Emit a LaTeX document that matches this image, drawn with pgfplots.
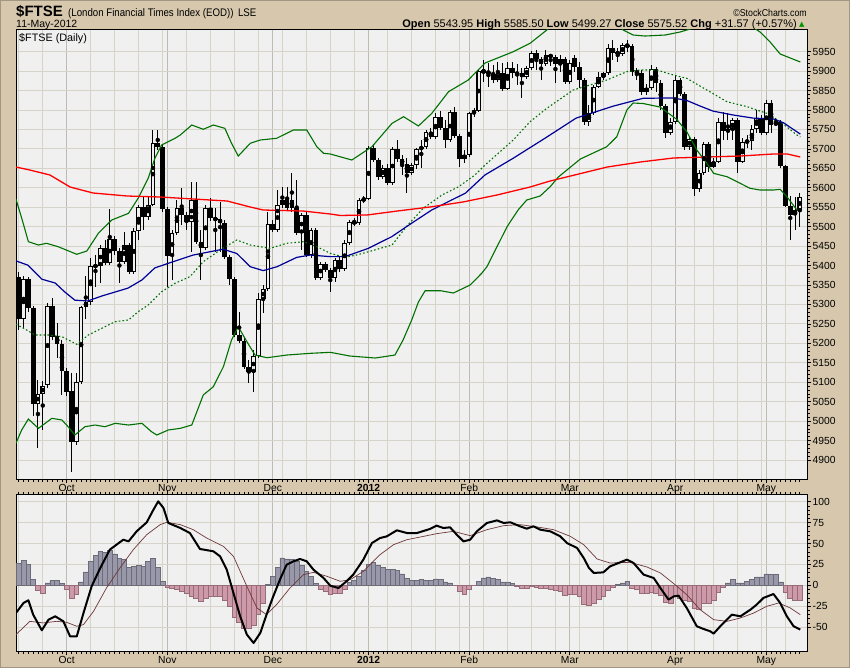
\documentclass[border=0pt]{standalone}
\usepackage{fontspec}
\setmainfont{Liberation Sans}
\newfontfamily\narrowfont[FakeStretch=0.88]{Liberation Sans}
\newfontfamily\dejavu{DejaVu Sans}
\usepackage{pgfplots}
\usepackage{pgfplotstable}
\pgfplotsset{compat=1.18}
\definecolor{tanbg}{RGB}{215,200,173}
\definecolor{framec}{RGB}{160,150,130}
\definecolor{plotbg}{RGB}{240,240,240}
\definecolor{gridc}{RGB}{214,211,200}
\definecolor{gridm}{RGB}{190,187,178}
\definecolor{bbgreen}{RGB}{0,112,0}
\definecolor{smablue}{RGB}{0,0,150}
\definecolor{smared}{RGB}{255,0,0}
\definecolor{histpos}{RGB}{152,152,170}
\definecolor{histposd}{RGB}{108,108,120}
\definecolor{histneg}{RGB}{206,154,170}
\definecolor{histnegd}{RGB}{150,108,120}
\definecolor{sigc}{RGB}{110,55,55}
\definecolor{upgreen}{RGB}{0,150,0}

\pgfplotstableread{
i O H L C
0 5370.5 5383.4 5234.3 5262.6
1 5262.6 5373.1 5239.4 5365.4
2 5365.4 5370.5 5280.5 5290.8
3 5290.8 5296.0 5013.2 5044.0
4 5044.0 5105.7 4930.9 5069.7
5 5069.7 5103.1 4977.2 5090.3
6 5092.9 5303.7 5085.2 5296.0
7 5296.0 5316.5 5208.6 5216.3
8 5218.9 5252.3 5162.3 5198.3
9 5198.3 5208.6 5067.2 5128.9
10 5128.9 5136.6 5064.6 5074.9
11 5077.4 5123.7 4869.2 4946.3
12 4946.3 5123.7 4938.6 5100.6
13 5100.6 5296.0 5095.4 5293.4
14 5293.4 5373.1 5262.6 5306.3
15 5306.3 5419.4 5298.6 5398.8
16 5396.2 5427.1 5344.8 5401.4
17 5398.8 5452.8 5355.1 5445.1
18 5445.1 5465.7 5401.4 5406.5
19 5406.5 5545.4 5401.4 5468.2
20 5468.2 5475.9 5427.1 5437.4
21 5437.4 5445.1 5355.1 5409.1
22 5409.1 5486.2 5404.0 5452.8
23 5452.8 5457.9 5378.2 5383.4
24 5383.4 5496.5 5378.2 5488.8
25 5488.8 5555.7 5465.7 5550.5
26 5550.5 5576.2 5491.4 5524.8
27 5524.8 5576.2 5517.1 5555.7
28 5555.7 5748.5 5553.1 5715.0
29 5715.0 5748.5 5697.0 5704.8
30 5704.8 5709.9 5537.6 5545.4
31 5545.4 5550.5 5344.8 5424.5
32 5424.5 5491.4 5362.8 5483.7
33 5483.7 5568.5 5478.5 5547.9
34 5547.9 5599.4 5504.2 5529.9
35 5529.9 5537.6 5491.4 5511.9
36 5511.9 5614.8 5434.8 5568.5
37 5568.5 5614.8 5455.4 5460.5
38 5460.5 5491.4 5362.8 5445.1
39 5445.1 5555.7 5440.0 5547.9
40 5547.9 5573.6 5514.5 5522.2
41 5522.2 5547.9 5434.8 5517.1
42 5519.7 5563.4 5434.8 5509.4
43 5509.4 5517.1 5416.8 5422.0
44 5422.0 5427.1 5350.0 5365.4
45 5365.4 5370.5 5216.3 5221.4
46 5221.4 5280.5 5200.8 5206.0
47 5206.0 5213.7 5134.0 5139.1
48 5139.1 5157.1 5098.0 5126.3
49 5126.3 5182.8 5074.9 5167.4
50 5167.4 5329.4 5162.3 5314.0
51 5314.0 5350.0 5278.0 5339.7
52 5339.7 5537.6 5334.5 5506.8
53 5506.8 5517.1 5486.2 5491.4
54 5491.4 5594.2 5486.2 5555.7
55 5555.7 5601.9 5547.9 5568.5
56 5571.1 5601.9 5542.8 5547.9
57 5568.5 5637.9 5537.6 5547.9
58 5547.9 5619.9 5478.5 5483.7
59 5483.7 5535.1 5440.0 5529.9
60 5529.9 5537.6 5422.0 5427.1
61 5427.1 5496.5 5419.4 5491.4
62 5491.4 5496.5 5362.8 5368.0
63 5368.0 5409.1 5362.8 5404.0
64 5404.0 5409.1 5383.4 5388.5
65 5388.5 5393.7 5332.0 5368.0
66 5368.0 5419.4 5357.7 5414.2
67 5414.2 5424.5 5383.4 5391.1
68 5391.1 5465.7 5385.9 5457.9
69 5457.9 5517.1 5452.8 5511.9
70 5511.9 5522.2 5501.7 5509.4
71 5509.4 5573.6 5504.2 5568.5
72 5568.5 5578.8 5560.8 5571.1
73 5571.1 5707.3 5568.5 5702.2
74 5702.2 5712.5 5666.2 5671.3
75 5671.3 5676.5 5619.9 5627.6
76 5627.6 5658.5 5622.5 5650.8
77 5650.8 5661.1 5607.1 5612.2
78 5612.2 5704.8 5607.1 5699.6
79 5699.6 5722.8 5666.2 5673.9
80 5673.9 5684.2 5632.8 5661.1
81 5661.1 5676.5 5586.5 5637.9
82 5637.9 5663.6 5632.8 5658.5
83 5658.5 5702.2 5648.2 5699.6
84 5699.6 5722.8 5650.8 5704.8
85 5704.8 5748.5 5699.6 5743.3
86 5743.3 5753.6 5725.3 5730.5
87 5730.5 5792.2 5725.3 5781.9
88 5781.9 5797.3 5748.5 5753.6
89 5753.6 5774.2 5702.2 5722.8
90 5722.8 5799.9 5717.6 5794.7
91 5794.7 5807.6 5727.9 5733.0
92 5733.0 5738.2 5653.3 5673.9
93 5673.9 5697.0 5663.6 5684.2
94 5684.2 5794.7 5679.1 5792.2
95 5792.2 5805.0 5781.9 5797.3
96 5797.3 5902.7 5794.7 5900.2
97 5902.7 5928.4 5871.9 5895.0
98 5895.0 5920.7 5859.0 5897.6
99 5892.4 5915.6 5869.3 5877.0
100 5877.0 5923.3 5871.9 5895.0
101 5895.0 5920.7 5848.7 5853.9
102 5853.9 5923.3 5851.3 5907.9
103 5907.9 5923.3 5882.2 5895.0
104 5897.6 5918.2 5864.2 5889.9
105 5895.0 5907.9 5830.7 5884.7
106 5884.7 5913.0 5879.6 5907.9
107 5907.9 5951.6 5902.7 5946.4
108 5946.4 5954.1 5902.7 5931.0
109 5931.0 5936.2 5877.0 5918.2
110 5918.2 5954.1 5913.0 5941.3
111 5941.3 5943.9 5913.0 5936.2
112 5936.2 5941.3 5869.3 5918.2
113 5918.2 5941.3 5897.6 5931.0
114 5931.0 5936.2 5866.7 5871.9
115 5871.9 5928.4 5866.7 5920.7
116 5933.6 5941.3 5897.6 5910.4
117 5910.4 5923.3 5856.5 5877.0
118 5877.0 5882.2 5761.3 5769.0
119 5769.0 5812.7 5758.8 5792.2
120 5792.2 5864.2 5787.0 5859.0
121 5859.0 5897.6 5856.5 5884.7
122 5884.7 5897.6 5877.0 5895.0
123 5895.0 5969.6 5889.9 5959.3
124 5959.3 5979.9 5928.4 5946.4
125 5949.0 5959.3 5923.3 5943.9
126 5943.9 5972.1 5938.7 5967.0
127 5967.0 5979.9 5949.0 5964.4
128 5964.4 5969.6 5887.3 5897.6
129 5895.0 5907.9 5877.0 5897.6
130 5895.0 5902.7 5838.5 5846.2
131 5846.2 5866.7 5838.5 5856.5
132 5856.5 5915.6 5851.3 5905.3
133 5905.3 5910.4 5846.2 5869.3
134 5869.3 5877.0 5799.9 5810.2
135 5810.2 5815.3 5727.9 5740.8
136 5740.8 5779.3 5735.6 5769.0
137 5769.0 5889.9 5763.9 5877.0
138 5877.0 5882.2 5835.9 5841.0
139 5841.0 5846.2 5697.0 5704.8
140 5704.8 5730.5 5697.0 5725.3
141 5725.3 5730.5 5578.8 5596.8
142 5596.8 5645.6 5589.1 5637.9
143 5637.9 5717.6 5632.8 5712.5
144 5712.5 5717.6 5640.5 5653.3
145 5653.3 5676.5 5650.8 5666.2
146 5666.2 5779.3 5663.6 5769.0
147 5769.0 5794.7 5722.8 5745.9
148 5745.9 5792.2 5722.8 5748.5
149 5748.5 5779.3 5722.8 5774.2
150 5774.2 5779.3 5637.9 5666.2
151 5666.2 5727.9 5663.6 5717.6
152 5717.6 5735.6 5702.2 5720.2
153 5720.2 5761.3 5697.0 5751.0
154 5751.0 5799.9 5740.8 5779.3
155 5779.3 5787.0 5735.6 5740.8
156 5740.8 5825.6 5735.6 5817.9
157 5817.9 5825.6 5740.8 5761.3
158 5761.3 5779.3 5758.8 5769.0
159 5769.0 5774.2 5650.8 5655.9
160 5655.9 5658.5 5550.5 5553.1
161 5553.1 5578.8 5465.7 5529.9
162 5529.9 5576.2 5491.4 5543.95
163 5543.95 5585.50 5499.27 5575.52
}\candles

\pgfplotstableread{
i P
-0.6 5571.1
0.6 5522.2
2.0 5461.3
4.1 5452.8
5.8 5457.2
8.2 5448.5
12.1 5428.9
14.2 5437.4
16.6 5482.9
19.4 5517.1
22.9 5534.3
24.9 5572.9
27.0 5624.3
28.4 5675.7
29.8 5709.9
32.6 5727.1
33.7 5735.6
36.1 5761.3
38.5 5750.3
40.6 5761.3
43.0 5752.8
44.4 5714.3
45.8 5681.6
48.3 5714.3
50.4 5722.8
53.8 5727.1
57.3 5748.5
60.1 5748.5
62.2 5705.5
63.6 5688.6
65.0 5686.8
69.5 5671.3
73.7 5705.5
77.9 5765.7
80.3 5782.7
83.4 5758.8
86.2 5791.4
89.7 5847.1
93.8 5877.0
97.3 5920.7
103.2 5949.8
106.7 5971.4
110.2 6005.6
113.0 6036.0
117.2 6057.0
121.4 6052.0
124.5 6026.0
126.1 6005.6
128.2 5992.7
130.7 5990.1
134.9 5992.7
138.0 6000.4
140.1 6008.1
143.3 6031.0
147.5 6044.0
151.6 6026.0
154.7 6000.4
156.8 5974.7
158.9 5943.9
161.0 5933.6
163.1 5923.3
}\bbup

\pgfplotstableread{
i P
-0.6 5248.9
1.3 5236.8
3.4 5221.4
6.2 5221.4
9.0 5217.1
12.1 5197.5
14.5 5221.4
17.3 5238.6
20.1 5255.6
22.9 5260.0
24.9 5281.3
27.0 5298.5
29.8 5332.7
32.6 5354.3
35.7 5371.3
38.5 5409.9
42.0 5439.9
45.5 5465.7
48.3 5452.8
52.4 5444.3
55.9 5457.2
59.4 5461.3
62.2 5448.5
65.0 5431.4
68.1 5421.2
70.5 5427.1
73.0 5435.6
77.9 5452.8
81.0 5501.7
84.4 5547.2
88.3 5581.3
91.8 5602.7
95.2 5632.8
97.3 5658.5
103.2 5722.8
106.7 5769.8
110.2 5804.3
115.7 5851.3
122.7 5877.0
126.9 5898.4
129.7 5902.7
133.2 5902.7
136.6 5889.9
139.4 5881.4
143.6 5851.3
147.8 5821.2
152.0 5808.4
156.1 5791.4
158.9 5769.8
162.4 5735.6
163.1 5730.5
}\bbmid

\pgfplotstableread{
i P
-0.6 4943.0
0.6 4977.2
2.0 5005.4
4.1 4981.5
6.9 5007.2
9.0 5002.9
10.3 4985.6
11.7 4964.3
13.8 4985.6
15.9 4990.0
18.0 4985.6
20.1 4994.4
22.9 4990.0
25.7 4994.4
27.7 4972.8
28.8 4964.3
31.2 4977.2
33.7 4981.5
36.1 4990.0
38.5 5067.2
40.6 5088.5
42.7 5139.9
44.4 5208.6
45.8 5242.7
47.6 5204.2
49.3 5169.9
51.8 5163.0
55.9 5169.9
60.8 5174.3
65.0 5176.9
69.1 5167.4
74.4 5162.3
78.5 5169.9
80.2 5208.6
82.0 5260.0
83.4 5306.3
84.8 5335.3
88.0 5335.3
90.7 5329.4
94.2 5350.0
96.6 5380.0
97.7 5397.0
101.9 5499.9
104.2 5542.8
106.0 5568.5
108.8 5578.8
110.9 5602.7
112.6 5627.6
117.2 5673.9
122.7 5705.5
124.8 5731.2
126.9 5799.9
128.2 5817.9
130.3 5816.6
133.8 5807.6
137.3 5776.0
139.4 5744.1
141.5 5697.0
143.6 5662.8
145.0 5637.1
147.8 5628.4
149.9 5615.5
152.6 5598.6
154.7 5594.2
157.5 5594.2
158.9 5596.0
160.3 5577.0
162.4 5542.8
163.1 5538.5
}\bblow

\pgfplotstableread{
i P
-0.6 5412
1.9 5401
4.8 5365
7.6 5355
9.6 5332
11.7 5311
14.4 5309
17.4 5322
20.1 5332
22.8 5342
25.7 5363
28.4 5394
32.0 5409
36.4 5427
42.6 5442
45.5 5431
48.3 5397
51.0 5387
53.9 5397
58.0 5421
60.8 5427
64.9 5423
68.1 5423
72.9 5444
77.8 5474
82.0 5509
86.2 5543
90.4 5569
93.2 5586
97.3 5633
103.2 5676
109.9 5728
116.3 5779
124.1 5810
130.3 5830
136.6 5831
139.5 5824
142.2 5810
144.9 5797
149.1 5787
153.3 5779
157.5 5777
159.6 5767
163.1 5738
}\smafifty

\pgfplotstableread{
i P
-0.6 5653.3
2.3 5645.6
6.5 5632.8
10.7 5601.9
15.5 5586.5
22.6 5578.8
29.5 5576.2
36.4 5571.1
43.5 5565.9
48.3 5550.5
51.0 5542.8
59.3 5540.2
65.0 5532.5
67.1 5528.7
72.7 5530.0
79.0 5540.2
85.8 5550.5
92.7 5563.4
99.8 5581.4
106.7 5601.9
110.9 5617.4
122.8 5653.3
129.7 5666.2
136.6 5676.5
143.7 5679.1
150.6 5681.6
157.5 5686.8
160.4 5686.8
163.1 5679.1
}\smatwohundred

\pgfplotstableread{
i h
0 25.9
1 29.5
2 25.5
3 6.8
6 2.8
7 5.6
8 5.6
9 2.0
13 4.0
14 16.0
15 28.7
16 35.5
17 40.3
18 39.5
19 41.5
20 37.5
21 31.9
22 30.7
23 21.9
24 22.7
25 23.9
26 22.7
27 28.7
28 32.3
29 21.5
30 4.8
52 0.8
53 10.8
54 21.9
55 32.7
56 31.5
57 30.7
58 28.3
59 23.5
60 16.7
61 10.8
62 2.0
69 3.6
70 6.0
71 10.8
72 17.9
73 24.7
74 27.5
75 23.5
76 21.9
77 18.7
78 18.7
79 17.5
80 13.6
81 8.4
82 5.6
83 5.6
84 6.8
85 6.0
86 6.0
87 7.6
88 6.8
89 4.0
90 2.8
96 4.8
97 8.8
98 10.0
99 8.4
100 6.8
101 4.0
102 4.0
103 2.0
125 0.8
126 2.8
127 4.4
148 2.8
149 6.8
150 2.8
151 2.8
152 4.8
153 6.8
154 10.0
155 10.0
156 13.6
157 12.8
158 12.8
159 4.0
}\histpos

\pgfplotstableread{
i h
4 -6.4
5 -9.2
10 -5.2
11 -15.1
12 -11.2
31 -2.0
32 -3.6
33 -5.2
34 -7.2
35 -9.2
36 -13.2
37 -15.1
38 -19.1
39 -15.1
40 -13.2
41 -13.2
42 -13.2
43 -17.9
44 -25.1
45 -37.9
46 -44.3
47 -51.0
48 -51.8
49 -48.2
50 -35.0
51 -21.0
63 -4.4
64 -7.2
65 -10.4
66 -9.2
67 -9.2
68 -4.4
91 -0.5
92 -7.2
93 -11.2
94 -5.2
95 -0.4
104 -1.2
105 -3.2
106 -3.2
107 -1.2
108 -2.0
109 -3.2
110 -3.2
111 -4.4
112 -6.0
113 -7.2
114 -12.0
115 -10.4
116 -10.4
117 -13.2
118 -22.3
119 -24.3
120 -21.1
121 -17.1
122 -13.2
123 -6.0
124 -2.4
128 -3.2
129 -5.2
130 -10.0
131 -9.2
132 -8.0
133 -10.0
134 -12.4
135 -19.9
136 -21.1
137 -13.2
138 -15.1
139 -17.9
140 -19.1
141 -27.1
142 -28.3
143 -21.9
144 -21.1
145 -17.9
146 -8.4
147 -2.0
160 -8.0
161 -15.1
162 -18.3
163 -17.9
}\histneg

\pgfplotstableread{
i v
-0.6 -33.1
1.0 -21.1
2.0 -17.9
3.0 -35.1
4.8 -53.8
6.2 -41.1
7.6 -37.1
9.3 -43.1
10.7 -61.0
12.1 -61.0
13.5 -33.1
15.2 -1.2
17.0 20.7
19.0 42.7
20.4 48.6
21.8 54.6
22.9 52.6
24.6 64.6
26.7 75.4
28.1 90.5
29.1 100.5
30.2 92.5
31.2 74.6
33.7 68.6
35.7 62.6
37.8 43.5
40.6 40.7
42.0 34.7
43.4 18.7
44.8 -9.2
46.2 -37.1
47.6 -59.0
49.0 -69.0
50.4 -57.0
51.7 -35.1
53.1 -13.2
54.5 6.8
55.9 24.7
57.3 28.7
58.7 31.5
60.1 28.7
61.5 18.7
63.6 8.8
65.0 -0.4
66.7 -3.2
68.4 4.8
69.8 12.8
71.9 30.7
73.7 50.6
75.4 56.6
76.8 58.6
78.9 65.8
81.0 62.6
83.1 62.6
85.8 67.4
87.2 71.4
88.6 68.6
90.0 69.4
91.4 60.6
92.8 52.6
94.2 54.6
95.6 64.6
97.7 74.6
99.8 77.7
101.2 74.6
102.6 75.4
104.6 70.6
106.0 67.8
107.4 70.6
108.8 66.6
110.9 64.6
113.0 58.6
114.4 50.6
116.5 44.7
117.9 32.7
119.0 20.7
120.0 14.8
122.0 15.5
123.4 22.7
125.5 27.5
126.9 30.7
128.3 26.7
130.4 12.8
132.5 8.8
133.9 -3.2
135.6 -17.1
136.7 -13.2
137.7 -12.4
139.4 -27.1
141.5 -49.0
142.9 -52.2
144.3 -55.0
145.0 -57.8
146.4 -49.0
148.8 -35.1
150.6 -37.1
152.7 -29.1
154.0 -23.1
155.4 -15.1
157.5 -10.4
158.9 -21.1
160.3 -37.1
161.7 -49.0
163.1 -53.0
}\macd

\pgfplotstableread{
i v
-0.6 -59.0
2.3 -43.1
5.1 -45.0
7.9 -43.1
10.0 -44.3
12.1 -49.0
13.5 -47.0
15.6 -31.1
18.3 -3.2
21.1 20.7
23.9 42.7
26.7 60.6
29.5 72.6
30.9 75.4
33.7 72.6
36.4 66.6
39.2 56.6
42.7 46.6
44.8 34.7
47.6 -1.2
49.7 -27.1
51.7 -35.1
53.8 -23.1
56.6 -3.2
59.4 12.8
61.5 15.5
64.3 10.8
67.1 4.8
69.2 6.8
71.9 16.7
75.4 36.7
78.2 48.6
81.0 54.6
83.8 57.8
87.2 61.8
90.7 64.6
94.2 59.4
97.7 66.6
101.2 71.4
104.6 72.6
108.2 69.8
111.6 66.6
115.1 58.6
117.9 48.6
120.7 31.5
123.4 26.7
127.6 27.5
131.1 21.9
133.9 14.8
136.7 2.0
139.4 -11.2
142.2 -29.1
145.0 -41.1
147.8 -43.1
150.6 -39.1
153.4 -33.1
156.1 -25.1
158.6 -21.1
161.0 -27.1
163.1 -35.1
}\signal

\pgfplotsset{
  panel/.style={
    scale only axis, width=791pt,
    xmin=-0.585, xmax=164.5,
    axis background/.style={fill=plotbg},
    axis line style={black, line width=1pt},
    tick align=outside,
    ytick pos=right, yticklabel pos=right,
    xticklabel pos=lower,
    major tick length=4pt, minor tick length=2.5pt,
    tick style={black, line width=0.7pt},
    xtick={10,31,53,73,94,115,137,156},
    xticklabels={Oct,Nov,Dec,\textbf{2012},Feb,Mar,Apr,May},
    minor xtick={0,5,15,20,25,30,35,40,45,50,55,60,65,70,77,82,87,92,97,102,107,112,117,122,127,132,141,145,150,155,160},
    extra x ticks={0,...,163},
    extra x tick labels={},
    extra x tick style={grid=none, major tick length=2.5pt},
    xmajorgrids, xminorgrids, ymajorgrids,
    major x grid style={gridm, line width=0.9pt},
    minor x grid style={gridc, line width=0.9pt},
    major y grid style={gridc, line width=0.9pt},
    tick label style={font=\fontsize{10.3}{12}\selectfont},
    xticklabel style={inner sep=1pt},
    yticklabel style={inner sep=1.5pt},
  },
  candle/.style={only marks, mark=none, forget plot,
    error bars/.cd, y dir=both, y explicit, error mark=none},
}

\begin{document}
\begin{tikzpicture}
\useasboundingbox (0,0) rectangle (850pt,-668pt);
\fill[tanbg] (0,0) rectangle (850pt,-668pt);
\draw[framec, line width=1pt] (0.5pt,-0.5pt) rectangle (849.5pt,-667.5pt);

\node[anchor=base west, inner sep=0pt, font=\bfseries\fontsize{15}{18}\selectfont] at (16pt,-17pt) {\$FTSE};
\node[anchor=base west, inner sep=0pt, font=\narrowfont\fontsize{11}{13}\selectfont] at (68pt,-17pt) {(London Financial Times Index (EOD))\, LSE};
\node[anchor=base east, inner sep=0pt, font=\narrowfont\fontsize{10}{12}\selectfont] at (807pt,-17pt) {\textcopyright StockCharts.com};
\node[anchor=base west, inner sep=0pt, font=\fontsize{10.5}{12}\selectfont] at (16pt,-28pt) {11-May-2012};
\node[anchor=base east, inner sep=0pt, font=\fontsize{11}{13}\selectfont] at (797pt,-28pt) {\textbf{Open} 5543.95 \textbf{High} 5585.50 \textbf{Low} 5499.27 \textbf{Close} 5575.52 \textbf{Chg} +31.57 (+0.57\%)};
\node[anchor=base west, inner sep=0pt, text=upgreen, font=\dejavu\fontsize{7}{8}\selectfont] at (799pt,-27pt) {▲};

\begin{axis}[panel,
  at={(16pt,-479pt)}, anchor=south west, height=449pt,
  ymin=4851.2, ymax=6005.6,
  xtick pos=lower,
  ytick={4900,4950,...,5950},
  yticklabels={4900,4950,5000,5050,5100,5150,5200,5250,5300,5350,5400,5450,5500,5550,5600,5650,5700,5750,5800,5850,5900,5950},
  minor y tick num=4,
]
% wicks
\addplot[candle, error bar style={draw=black, line width=1pt, solid}]
  table[x=i, y expr={(\thisrow{H}+\thisrow{L})/2}, y error expr={(\thisrow{H}-\thisrow{L})/2}] {\candles};
% bodies
\addplot[candle, error bar style={draw=black, line width=4.7pt, solid}]
  table[x=i, y expr={(\thisrow{O}+\thisrow{C})/2}, y error expr={max(abs(\thisrow{C}-\thisrow{O})/2,1.4)}] {\candles};
% hollow interiors
\addplot[candle, error bar style={draw=plotbg, line width=2.5pt, solid}]
  table[x=i, y expr={(\thisrow{O}+\thisrow{C})/2}, y error expr={max((\thisrow{C}-\thisrow{O})/2-2.8,0)}] {\candles};
% overlays
\addplot[bbgreen, line width=1.1pt] table[x=i,y=P] {\bbup};
\addplot[bbgreen, line width=1.1pt] table[x=i,y=P] {\bblow};
\addplot[bbgreen, line width=1.1pt, dash pattern=on 1.6pt off 2.2pt] table[x=i,y=P] {\bbmid};
\addplot[smablue, line width=1.2pt] table[x=i,y=P] {\smafifty};
\addplot[smared, line width=1.3pt] table[x=i,y=P] {\smatwohundred};
\end{axis}
\node[anchor=base west, inner sep=0pt, font=\fontsize{10.8}{12}\selectfont] at (19pt,-42pt) {\$FTSE (Daily)};

\begin{axis}[panel,
  at={(16pt,-651pt)}, anchor=south west, height=156.7pt,
  ymin=-78.6, ymax=108.9,
  xtick pos=both,
  ytick={-50,-25,0,25,50,75,100},
  yticklabels={-50,-25,0,25,50,75,100},
  minor y tick num=4,
]
\addplot[ybar, bar width=1, bar shift=0pt, fill=histpos, draw=histposd, line width=0.7pt] table[x=i,y=h] {\histpos};
\addplot[ybar, bar width=1, bar shift=0pt, fill=histneg, draw=histnegd, line width=0.7pt] table[x=i,y=h] {\histneg};
\addplot[sigc, line width=0.7pt] table[x=i,y=v] {\signal};
\addplot[black, line width=2pt, line join=round] table[x=i,y=v] {\macd};
\end{axis}
\end{tikzpicture}
\end{document}
